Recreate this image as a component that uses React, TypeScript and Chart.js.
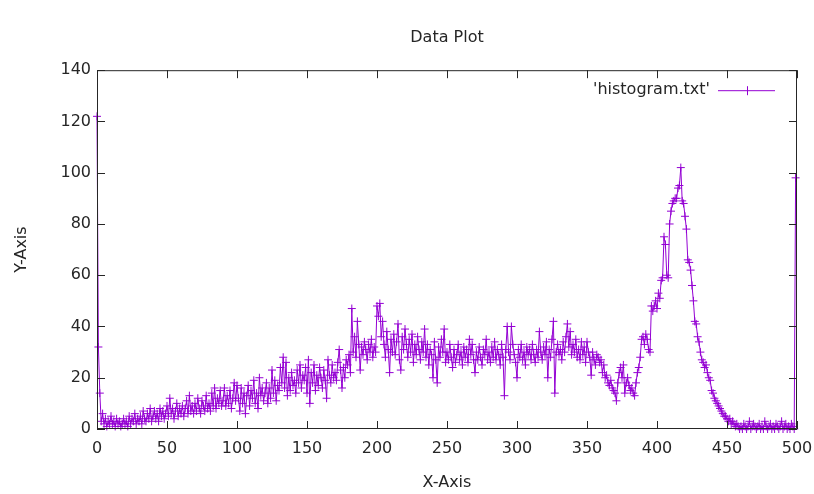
import { useEffect, useRef } from "react";
import { Chart, registerables } from "chart.js";

Chart.register(...registerables);

// Histogram counts, one value per bin (bins 0..499)
const counts0to99 = [
  122, 32, 14, 3, 6, 2, 4, 1, 3, 2,
  5, 2, 3, 1, 4, 2, 3, 1, 2, 4,
  2, 3, 1, 5, 2, 4, 3, 6, 2, 4,
  3, 5, 2, 7, 4, 3, 6, 4, 8, 3,
  5, 7, 4, 6, 3, 8, 5, 7, 4, 6,
  9, 5, 12, 6, 8, 4, 7, 10, 5, 8,
  6, 9, 5, 8, 11, 6, 13, 7, 9, 6,
  10, 7, 12, 8, 6, 11, 9, 7, 13, 8,
  10, 7, 14, 9, 16, 8, 12, 10, 15, 9,
  11, 16, 9, 13, 10, 15, 8, 12, 18, 11,
];
const counts100to199 = [
  17, 12, 7, 16, 10, 14, 6, 13, 17, 9,
  15, 12, 19, 10, 14, 8, 20, 13, 16, 11,
  14, 18, 10, 16, 12, 23, 14, 19, 11, 17,
  15, 24, 18, 28, 16, 26, 13, 20, 15, 22,
  17, 19, 14, 23, 18, 25, 16, 21, 19, 24,
  14, 27, 10, 22, 18, 25, 15, 21, 17, 24,
  20, 16, 23, 19, 12, 27, 21, 18, 25, 20,
  22, 19, 26, 31, 23, 16, 24, 20, 27, 25,
  29, 22, 47, 30, 36, 28, 42, 33, 23, 32,
  29, 34, 31, 27, 33, 30, 35, 28, 32, 30,
];
const counts200to299 = [
  48, 44, 49, 36, 42, 33, 28, 38, 31, 22,
  35, 30, 37, 29, 34, 41, 27, 23, 36, 31,
  39, 33, 28, 35, 30, 37, 26, 33, 29, 36,
  31, 27, 34, 30, 39, 28, 33, 25, 31, 29,
  20, 34, 27, 18, 32, 28, 35, 30, 39, 26,
  30, 27, 33, 28, 24, 31, 26, 29, 33, 27,
  30, 25, 32, 28, 31, 26, 35, 29, 33, 27,
  22, 30, 27, 32, 28, 25, 31, 29, 35, 27,
  30, 26, 32, 28, 34, 27, 31, 29, 25, 33,
  28, 13, 31, 40, 30, 27, 40, 33, 29, 26,
];
const counts300to399 = [
  20, 31, 28, 33, 27, 30, 25, 32, 29, 31,
  27, 33, 29, 26, 31, 28, 38, 30, 27, 32,
  29, 34, 20, 31, 28, 35, 42, 14, 30, 33,
  29, 31, 27, 34, 30, 36, 41, 32, 38, 29,
  33, 30, 35, 28, 31, 27, 34, 29, 32, 26,
  34, 30, 28, 21, 30, 27, 25, 29, 28, 26,
  27, 22, 25, 20, 21, 18, 17, 19, 16, 15,
  14, 11, 18, 22, 24, 20, 25, 14, 18, 20,
  17, 15, 16, 14, 13, 18, 22, 24, 28, 35,
  36, 33, 37, 35, 31, 30, 48, 46, 48, 50,
];
const counts400to499 = [
  47, 53, 51, 58, 59, 75, 72, 60, 59, 80,
  85, 88, 89, 90, 90, 94, 95, 102, 89, 88,
  83, 78, 66, 65, 62, 56, 50, 42, 41, 36,
  34, 30, 27, 26, 24, 25, 22, 20, 19, 15,
  14, 12, 11, 10, 9, 8, 7, 6, 5, 5,
  4, 3, 4, 2, 3, 2, 1, 2, 1, 0,
  1, 0, 2, 1, 0, 1, 3, 0, 1, 2,
  1, 0, 1, 2, 0, 1, 0, 3, 1, 0,
  1, 2, 0, 1, 0, 2, 1, 0, 1, 3,
  0, 1, 2, 0, 1, 0, 2, 1, 0, 98,
];

const counts = [
  ...counts0to99,
  ...counts100to199,
  ...counts200to299,
  ...counts300to399,
  ...counts400to499,
];

const xTicks = [0, 50, 100, 150, 200, 250, 300, 350, 400, 450, 500];
const yTicks = [0, 20, 40, 60, 80, 100, 120, 140];

const seriesLabel = "'histogram.txt'";
const titleText = "Data Plot";
const xTitle = "X-Axis";
const yTitle = "Y-Axis";

const PURPLE = "#9400d3";
const INK = "#262626";
const FONT = "DejaVu Sans";
const FONT_SIZE = 16;

// gnuplot-style frame: border box, inward ticks mirrored on all sides, key in the top right
const framePlugin = {
  id: "gnuplotFrame",
  afterDraw(chart: any) {
    const { ctx, chartArea } = chart;
    const { left, right, top, bottom } = chartArea;
    const xs = chart.scales.x;
    const ys = chart.scales.y;
    const tickLen = 8;
    ctx.save();
    ctx.strokeStyle = INK;
    ctx.lineWidth = 1;
    ctx.beginPath();
    ctx.rect(left + 0.5, top + 0.5, right - left - 1, bottom - top - 1);
    ctx.stroke();
    ctx.beginPath();
    xTicks.forEach((v) => {
      const px = Math.round(xs.getPixelForValue(v)) + 0.5;
      ctx.moveTo(px, bottom);
      ctx.lineTo(px, bottom - tickLen);
      ctx.moveTo(px, top);
      ctx.lineTo(px, top + tickLen);
    });
    yTicks.forEach((v) => {
      const py = Math.round(ys.getPixelForValue(v)) + 0.5;
      ctx.moveTo(left, py);
      ctx.lineTo(left + tickLen, py);
      ctx.moveTo(right, py);
      ctx.lineTo(right - tickLen, py);
    });
    ctx.stroke();

    // key
    const keyY = top + 20;
    const sampleStart = right - 79;
    const sampleEnd = right - 22;
    ctx.fillStyle = INK;
    ctx.font = `${FONT_SIZE}px "${FONT}"`;
    ctx.textAlign = "right";
    ctx.textBaseline = "middle";
    ctx.fillText(seriesLabel, right - 87, keyY);
    ctx.strokeStyle = PURPLE;
    ctx.beginPath();
    ctx.moveTo(sampleStart, keyY + 0.5);
    ctx.lineTo(sampleEnd, keyY + 0.5);
    const cx = Math.round((sampleStart + sampleEnd) / 2) + 0.5;
    ctx.moveTo(cx, keyY - 4);
    ctx.lineTo(cx, keyY + 5);
    ctx.stroke();
    ctx.restore();
  },
};

export default function App() {
  const canvasRef = useRef<HTMLCanvasElement | null>(null);

  useEffect(() => {
    if (!canvasRef.current) return;
    const points = counts.map((c, i) => ({ x: i, y: c }));
    const chart = new Chart(canvasRef.current, {
      type: "line",
      data: {
        datasets: [
          {
            label: seriesLabel,
            data: points,
            borderColor: PURPLE,
            backgroundColor: PURPLE,
            borderWidth: 1,
            pointStyle: "cross",
            pointRadius: 4,
            pointBorderWidth: 1,
            pointBorderColor: PURPLE,
            tension: 0,
            clip: false as any,
          },
        ],
      },
      options: {
        responsive: false,
        animation: false,
        events: [],
        layout: { padding: { left: 0, right: 17, top: 0, bottom: 0 } },
        plugins: {
          legend: { display: false },
          tooltip: { enabled: false },
          title: {
            display: true,
            text: titleText,
            fullSize: false,
            color: INK,
            font: { family: FONT, size: FONT_SIZE, weight: "normal" },
            padding: { top: 28, bottom: 23 },
          },
        },
        scales: {
          x: {
            type: "linear",
            min: 0,
            max: 500,
            afterBuildTicks: (scale: any) => {
              scale.ticks = xTicks.map((v) => ({ value: v }));
            },
            afterFit: (scale: any) => {
              scale.height = 65;
              scale.paddingLeft = 0;
              scale.paddingRight = 0;
            },
            grid: { display: false, drawTicks: false },
            border: { display: false },
            ticks: {
              color: INK,
              padding: 10,
              maxRotation: 0,
              autoSkip: false,
              font: { family: FONT, size: FONT_SIZE },
            },
            title: {
              display: true,
              text: xTitle,
              color: INK,
              font: { family: FONT, size: FONT_SIZE },
              padding: { top: 0, bottom: 2 },
            },
          },
          y: {
            type: "linear",
            min: 0,
            max: 140,
            afterBuildTicks: (scale: any) => {
              scale.ticks = yTicks.map((v) => ({ value: v }));
            },
            afterFit: (scale: any) => {
              scale.width = 97;
              scale.paddingTop = 0;
              scale.paddingBottom = 0;
            },
            grid: { display: false, drawTicks: false },
            border: { display: false },
            ticks: {
              color: INK,
              padding: 6,
              autoSkip: false,
              font: { family: FONT, size: FONT_SIZE },
            },
            title: {
              display: true,
              text: yTitle,
              color: INK,
              font: { family: FONT, size: FONT_SIZE },
              padding: { top: 12, bottom: 0 },
            },
          },
        },
      },
      plugins: [framePlugin],
    });
    return () => chart.destroy();
  }, []);

  return (
    <div style={{ position: "absolute", left: 0, top: 0, width: 814, height: 494, background: "#fff" }}>
      <canvas ref={canvasRef} width={814} height={494} style={{ display: "block" }} />
    </div>
  );
}
